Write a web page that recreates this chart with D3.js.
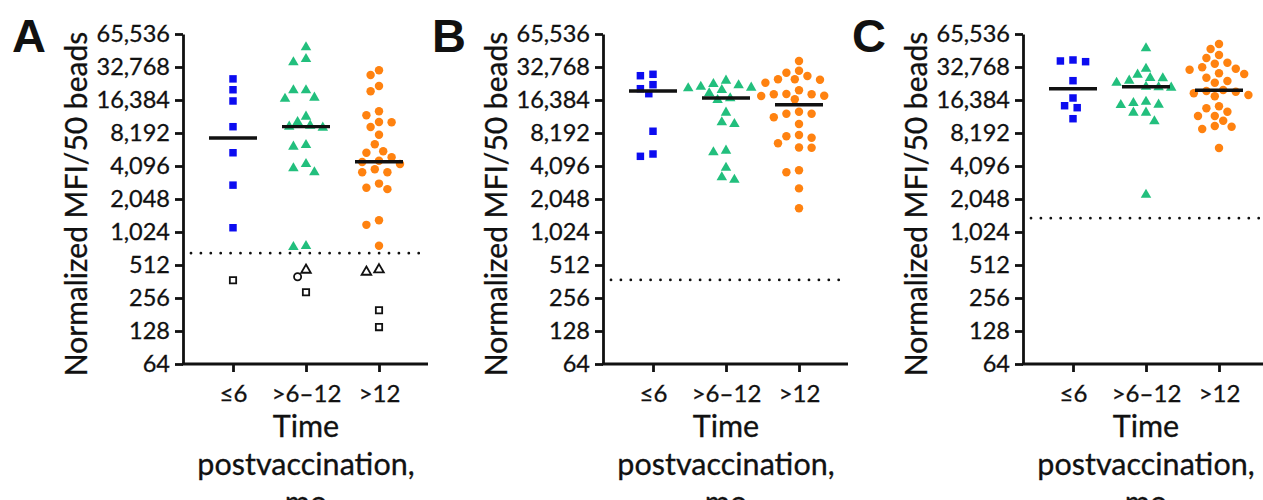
<!DOCTYPE html>
<html>
<head>
<meta charset="utf-8">
<script src="https://cdn.jsdelivr.net/npm/d3@7"></script>
<style>
  body { margin: 0; background: #fff; }
  svg { display: block; }
  text { font-family: Lato, "Open Sans", sans-serif; fill: #111; }
</style>
</head>
<body>
<svg id="chart" width="1263" height="500"></svg>
<script>
// categories and ticks
var categories = ["≤6", ">6–12", ">12"];
var yTickValues = [64, 128, 256, 512, 1024, 2048, 4096, 8192, 16384, 32768, 65536];

// panel A (filled = above cutoff)
var aLe6 = [25530, 20320, 16050, 9350, 5410, 2740, 1120];
var aGt6to12 = [49550, 38770, 36180, 20090, 20090, 17200, 16830, 11540, 10320, 9550, 9360, 9160, 6370, 6144, 4270, 3900, 3590, 763, 747];
var aGt12 = [30570, 27720, 21990, 19680, 12920, 11880, 10320, 10260, 9280, 7900, 6460, 5580, 5420, 4920, 4580, 4460, 4270, 3820, 3590, 3590, 2830, 2590, 2520, 1310, 1190, 768];
// panel A, below cutoff (open symbols)
var aBelowLe6 = [["square", 372]];
var aBelowGt6to12 = [["triangle", 461], ["circle", 400], ["square", 289]];
var aBelowGt12 = [["triangle", 464], ["triangle", 442], ["square", 198], ["square", 139]];
var aMedians = [7385, 9360, 4485];
var aCutoff = 657;

// panel B
var bLe6 = [28110, 27290, 22600, 20770, 18710, 8500, 5270, 5020];
var bGt6to12 = [24580, 22930, 22300, 21660, 21220, 20950, 20200, 18860, 16990, 16384, 12550, 10260, 9900, 5650, 5460, 3950, 3230, 3070];
var bGt12 = [37190, 30330, 29070, 27120, 25300, 25300, 25100, 23560, 20090, 18580, 18480, 18480, 17930, 17820, 16620, 12810, 12290, 12290, 11390, 9900, 7850, 7640, 7420, 6600, 6040, 6020, 3740, 3590, 2560, 1685];
var bMedians = [19790, 17090, 14850];
var bCutoff = 374;

// panel C
var cLe6 = [37980, 37190, 36640, 24580, 17090, 14530, 13940, 11060];
var cGt6to12 = [48540, 31610, 27880, 26020, 25860, 24580, 23560, 21660, 21400, 21220, 15800, 15380, 14850, 14750, 12550, 12550, 10480, 2240];
var cGt12 = [53120, 47810, 42170, 39620, 35860, 35120, 32570, 31610, 30950, 28700, 28290, 26180, 24420, 23560, 20200, 19790, 19510, 18860, 18220, 17710, 14350, 13760, 12810, 11710, 11710, 10610, 9490, 9360, 8910, 5980];
var cMedians = [20770, 21660, 20090];
var cCutoff = 1370;

var colors = ["#0c0cf0", "#22bf7d", "#ff8210"];
var shapes = ["square", "triangle", "circle"];
var symbolTypes = { square: d3.symbolSquare, triangle: d3.symbolTriangle, circle: d3.symbolCircle };

var panels = [
  { letter: "A", x0: 183, groups: [aLe6, aGt6to12, aGt12], below: [aBelowLe6, aBelowGt6to12, aBelowGt12], medians: aMedians, cutoff: aCutoff },
  { letter: "B", x0: 603, groups: [bLe6, bGt6to12, bGt12], below: [[], [], []], medians: bMedians, cutoff: bCutoff },
  { letter: "C", x0: 1023, groups: [cLe6, cGt6to12, cGt12], below: [[], [], []], medians: cMedians, cutoff: cCutoff }
];

var yTop = 34, yBottom = 364, axisLen = 245;
var svg = d3.select("#chart");

var y = d3.scaleLog().base(2).domain([64, 65536]).range([yBottom, yTop]);
var x = d3.scalePoint().domain(categories).range([50, 196]);

// simple beeswarm-like dodge
function dodge(points, diam, step) {
  var placed = [];
  points.sort(function(a, b) { return a.py - b.py; });
  points.forEach(function(p) {
    for (var k = 0; k < 60; k++) {
      var off = (k % 2 === 0 ? 1 : -1) * Math.ceil(k / 2) * step;
      var hit = placed.some(function(q) {
        var dx = q.dx - off, dy = q.py - p.py;
        return dx * dx + dy * dy < diam * diam;
      });
      if (!hit) { p.dx = off; break; }
    }
    placed.push(p);
  });
  return points;
}

panels.forEach(function(panel) {
  var g = svg.append("g").attr("transform", "translate(" + panel.x0 + ",0)");

  // panel letter
  g.append("text")
    .attr("x", -171).attr("y", 52)
    .style("font-family", "'Liberation Sans', Arial, sans-serif")
    .style("font-weight", "bold")
    .style("font-size", "47px")
    .text(panel.letter);

  // y axis
  var yAxis = g.append("g")
    .call(d3.axisLeft(y).tickValues(yTickValues).tickFormat(d3.format(",")).tickSize(8).tickSizeOuter(0).tickPadding(5));
  yAxis.select(".domain").attr("stroke", "#111").attr("stroke-width", 2.8);
  yAxis.selectAll(".tick line").attr("stroke", "#111").attr("stroke-width", 2.8);
  yAxis.selectAll(".tick text").style("font-size", "23.5px").style("font-family", "Lato, sans-serif")
    .attr("fill", "#111").attr("stroke", "#111").attr("stroke-width", 0.3);

  g.append("text")
    .attr("transform", "translate(-96," + ((yTop + yBottom) / 2 + 5) + ") rotate(-90)")
    .attr("text-anchor", "middle")
    .style("font-size", "30px")
    .attr("stroke", "#111").attr("stroke-width", 0.3)
    .text("Normalized MFI/50 beads");

  // x axis
  g.append("line")
    .attr("x1", -1).attr("x2", axisLen)
    .attr("y1", yBottom).attr("y2", yBottom)
    .attr("stroke", "#111").attr("stroke-width", 2.8);
  var xAxis = g.append("g")
    .attr("transform", "translate(0," + yBottom + ")")
    .call(d3.axisBottom(x).tickSize(8).tickSizeOuter(0).tickPadding(13));
  xAxis.select(".domain").remove();
  xAxis.selectAll(".tick line").attr("stroke", "#111").attr("stroke-width", 2.8);
  xAxis.selectAll(".tick text").style("font-size", "24px").style("font-family", "Lato, sans-serif")
    .attr("fill", "#111").attr("stroke", "#111").attr("stroke-width", 0.3);

  var title = g.append("text").attr("text-anchor", "middle").style("font-size", "30.5px")
    .attr("stroke", "#111").attr("stroke-width", 0.3);
  ["Time", "postvaccination,", "mo"].forEach(function(line, i) {
    title.append("tspan").attr("x", 123).attr("y", 437 + i * 38).text(line);
  });

  // cutoff
  g.append("line")
    .attr("x1", 8).attr("x2", axisLen)
    .attr("y1", y(panel.cutoff)).attr("y2", y(panel.cutoff))
    .attr("stroke", "#111").attr("stroke-width", 2.8)
    .attr("stroke-linecap", "round")
    .attr("stroke-dasharray", "0 9.9");

  // points
  panel.groups.forEach(function(vals, ci) {
    var pts = vals.map(function(v) { return { v: v, py: y(v), shape: shapes[ci], open: false }; });
    panel.below[ci].forEach(function(b) { pts.push({ v: b[1], py: y(b[1]), shape: b[0], open: true }); });
    dodge(pts, 9.6, 4.2);
    var cx = x(categories[ci]);

    g.selectAll(".pt" + ci)
      .data(pts)
      .enter().append("path")
      .attr("class", "pt" + ci)
      .attr("transform", function(d) { return "translate(" + (cx + d.dx) + "," + d.py + ")"; })
      .attr("d", function(d) {
        var size = d.open ? 40 : (d.shape === "triangle" ? 48 : 56);
        return d3.symbol().type(symbolTypes[d.shape]).size(size)();
      })
      .attr("fill", function(d) { return d.open ? "#fff" : colors[ci]; })
      .attr("stroke", function(d) { return d.open ? "#111" : "none"; })
      .attr("stroke-width", 1.8);

    // median bar
    g.append("line")
      .attr("x1", cx - 24).attr("x2", cx + 24)
      .attr("y1", y(panel.medians[ci])).attr("y2", y(panel.medians[ci]))
      .attr("stroke", "#111").attr("stroke-width", 3.4);
  });
});
</script>
</body>
</html>
